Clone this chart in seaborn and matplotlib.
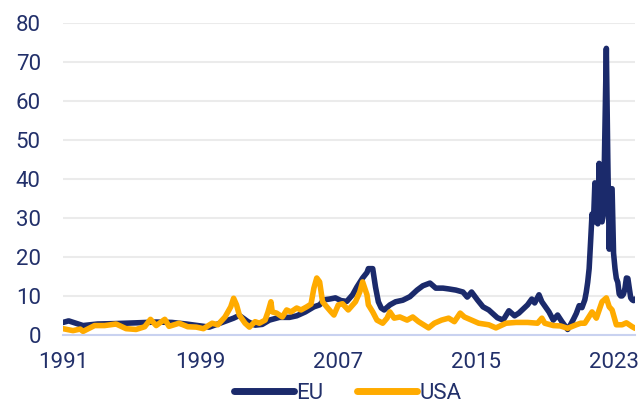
import pandas as pd
import matplotlib.pyplot as plt
import matplotlib.dates as mdates
import seaborn as sns

# --- 1. Data (natural gas prices) ---
eu_months = [
    '1991-01', '1991-05', '1991-10', '1992-03', '1993-01', '1994-01', '1995-04',
    '1996-06', '1997-05', '1998-03', '1999-01', '1999-07', '2000-04', '2000-12',
    '2001-04', '2001-10', '2002-03', '2002-08', '2003-01', '2003-08', '2004-03',
    '2004-08', '2005-02', '2005-08', '2005-12', '2006-03', '2006-07', '2006-11',
    '2007-03', '2007-07', '2007-11', '2008-02', '2008-06', '2008-09', '2008-10',
    '2009-01', '2009-03', '2009-05', '2009-07', '2009-09', '2010-01', '2010-05',
    '2010-10', '2011-03', '2011-08', '2011-12', '2012-05', '2012-09', '2013-02',
    '2013-06', '2013-11', '2014-04', '2014-07', '2014-10', '2015-02', '2015-06',
    '2015-10', '2016-04', '2016-08', '2016-12', '2017-04', '2017-07', '2018-01',
    '2018-04', '2018-06', '2018-09', '2018-11', '2019-04', '2019-07', '2019-10',
    '2020-01', '2020-05', '2020-07', '2020-09', '2020-11', '2021-01', '2021-03',
    '2021-05', '2021-06', '2021-07', '2021-08', '2021-09', '2021-10', '2021-11',
    '2021-12', '2022-01', '2022-02', '2022-03', '2022-04', '2022-05', '2022-06',
    '2022-07', '2022-08', '2022-09', '2022-10', '2022-11', '2022-12', '2023-01',
    '2023-02', '2023-03', '2023-04', '2023-05', '2023-06', '2023-07', '2023-08',
    '2023-09', '2023-10', '2023-11', '2023-12', '2024-01', '2024-02', '2024-03',
    '2024-04',
]
eu_price = [
    3.2, 3.6, 3.0, 2.4, 2.8, 2.9, 3.1,
    3.3, 3.2, 2.8, 2.3, 2.0, 3.2, 4.3,
    5.0, 3.4, 2.5, 2.7, 3.8, 4.5, 4.5,
    4.9, 5.9, 7.2, 7.7, 9.0, 9.2, 9.5,
    8.8, 8.6, 10.3, 12.3, 14.6, 16.0, 17.0,
    17.0, 12.3, 8.5, 6.9, 6.4, 7.7, 8.5,
    8.9, 9.8, 11.5, 12.6, 13.3, 12.0, 12.0,
    11.8, 11.5, 11.0, 9.7, 11.0, 9.0, 7.2,
    6.4, 4.4, 3.8, 6.2, 4.9, 5.6, 7.7,
    9.2, 8.2, 10.3, 8.5, 5.9, 3.8, 5.1,
    3.4, 1.4, 2.6, 4.0, 5.5, 7.5, 7.0,
    9.0, 11.0, 13.5, 17.0, 24.0, 31.0, 29.0,
    39.0, 29.0, 28.5, 44.0, 30.0, 29.0, 31.0,
    52.0, 73.5, 45.0, 22.0, 37.5, 37.5, 21.0,
    17.0, 14.5, 13.5, 10.5, 10.0, 10.0, 10.5,
    12.0, 14.6, 14.5, 12.0, 9.5, 9.0, 8.8,
    9.2,
]

usa_months = [
    '1991-01', '1991-08', '1992-01', '1992-03', '1992-11', '1993-06', '1994-02',
    '1994-09', '1995-04', '1995-10', '1996-02', '1996-06', '1996-12', '1997-03',
    '1997-10', '1998-04', '1998-10', '1999-03', '1999-09', '2000-01', '2000-06',
    '2000-10', '2000-12', '2001-02', '2001-04', '2001-08', '2001-11', '2002-03',
    '2002-06', '2002-10', '2002-12', '2003-02', '2003-03', '2003-06', '2003-10',
    '2004-01', '2004-04', '2004-08', '2004-11', '2005-03', '2005-06', '2005-08',
    '2005-10', '2005-12', '2006-02', '2006-05', '2006-08', '2006-10', '2007-01',
    '2007-04', '2007-08', '2008-01', '2008-04', '2008-06', '2008-09', '2008-10',
    '2009-01', '2009-04', '2009-08', '2009-11', '2010-01', '2010-04', '2010-08',
    '2011-01', '2011-05', '2011-09', '2012-04', '2012-08', '2013-01', '2013-06',
    '2013-10', '2014-02', '2014-05', '2014-10', '2015-03', '2015-10', '2016-03',
    '2016-10', '2017-05', '2018-01', '2018-08', '2018-11', '2019-01', '2019-07',
    '2019-12', '2020-05', '2020-11', '2021-02', '2021-05', '2021-10', '2022-01',
    '2022-05', '2022-08', '2022-10', '2022-12', '2023-03', '2023-07', '2023-10',
    '2024-02', '2024-04',
]
usa_price = [
    1.6, 1.1, 1.5, 0.9, 2.4, 2.4, 2.8,
    1.6, 1.4, 2.1, 4.0, 2.4, 4.0, 2.2,
    3.0, 2.1, 2.0, 1.6, 3.0, 2.6, 4.6,
    7.2, 9.4, 7.7, 5.1, 3.0, 2.0, 3.4,
    3.0, 3.8, 5.9, 8.5, 5.9, 5.6, 4.6,
    6.4, 5.9, 6.9, 6.4, 7.2, 7.9, 12.0,
    14.6, 13.6, 8.5, 7.2, 5.9, 5.1, 7.7,
    8.0, 6.4, 8.5, 11.0, 13.6, 10.3, 7.7,
    5.9, 3.8, 3.0, 4.3, 5.9, 4.3, 4.6,
    3.8, 4.6, 3.4, 1.8, 3.0, 3.8, 4.3,
    3.4, 5.6, 4.6, 3.8, 3.0, 2.6, 1.8,
    3.0, 3.2, 3.2, 3.0, 4.3, 3.0, 2.4,
    2.3, 1.7, 2.6, 3.0, 3.0, 5.9, 4.3,
    8.5, 9.5, 7.2, 6.4, 2.6, 2.6, 3.1,
    2.1, 1.7,
]

tick_years = [1991, 1999, 2007, 2015, 2023]

df = pd.concat([
    pd.DataFrame({'date': pd.to_datetime(eu_months), 'price': eu_price, 'region': 'EU'}),
    pd.DataFrame({'date': pd.to_datetime(usa_months), 'price': usa_price, 'region': 'USA'}),
], ignore_index=True)

# --- 2. Style ---
sns.set_theme(style="whitegrid")
plt.rcParams['font.family'] = ['Roboto', 'DejaVu Sans']

navy = '#1b2a6b'
text_color = '#22306a'
palette = {'EU': navy, 'USA': '#ffab00'}

# --- 3. Plot ---
fig = plt.figure(figsize=(6.43, 4.04), dpi=100)
ax = fig.add_axes([0.098, 0.171, 0.8896, 0.772])

sns.lineplot(data=df, x='date', y='price', hue='region', palette=palette,
             linewidth=4, solid_capstyle='round', solid_joinstyle='round', ax=ax)

ax.set_xlim(pd.Timestamp('1991-01-01'), pd.Timestamp('2024-04-01'))
ax.set_ylim(0, 80)
ax.set_yticks(range(0, 81, 10))
ax.set_xticks(pd.to_datetime([f'{y}-01-01' for y in tick_years]))
ax.xaxis.set_major_formatter(mdates.DateFormatter('%Y'))
ax.set_xlabel('')
ax.set_ylabel('')

ax.grid(axis='x', visible=False)
ax.grid(axis='y', color='#ebebeb', linewidth=1.5)
for side in ['top', 'right', 'left']:
    ax.spines[side].set_visible(False)
ax.spines['bottom'].set_color('#c9d2f0')
ax.spines['bottom'].set_linewidth(1.5)
ax.spines['bottom'].set_zorder(3)
ax.tick_params(axis='y', length=0, pad=16, labelsize=16, labelcolor=text_color)
ax.tick_params(axis='x', length=0, pad=12, labelsize=16, labelcolor=text_color)

# legend below the axes, centred on the plot area
handles, labels = ax.get_legend_handles_labels()
ax.get_legend().remove()
leg = fig.legend(handles, labels, loc='center', bbox_to_anchor=(0.541, 0.027),
                 ncol=2, frameon=False, fontsize=16, handlelength=2.7,
                 handletextpad=0.1, columnspacing=1.5, borderpad=0)
for h in leg.legend_handles:
    h.set_linewidth(5)
for t in leg.get_texts():
    t.set_color(text_color)

fig.savefig('out.png', dpi=100)
